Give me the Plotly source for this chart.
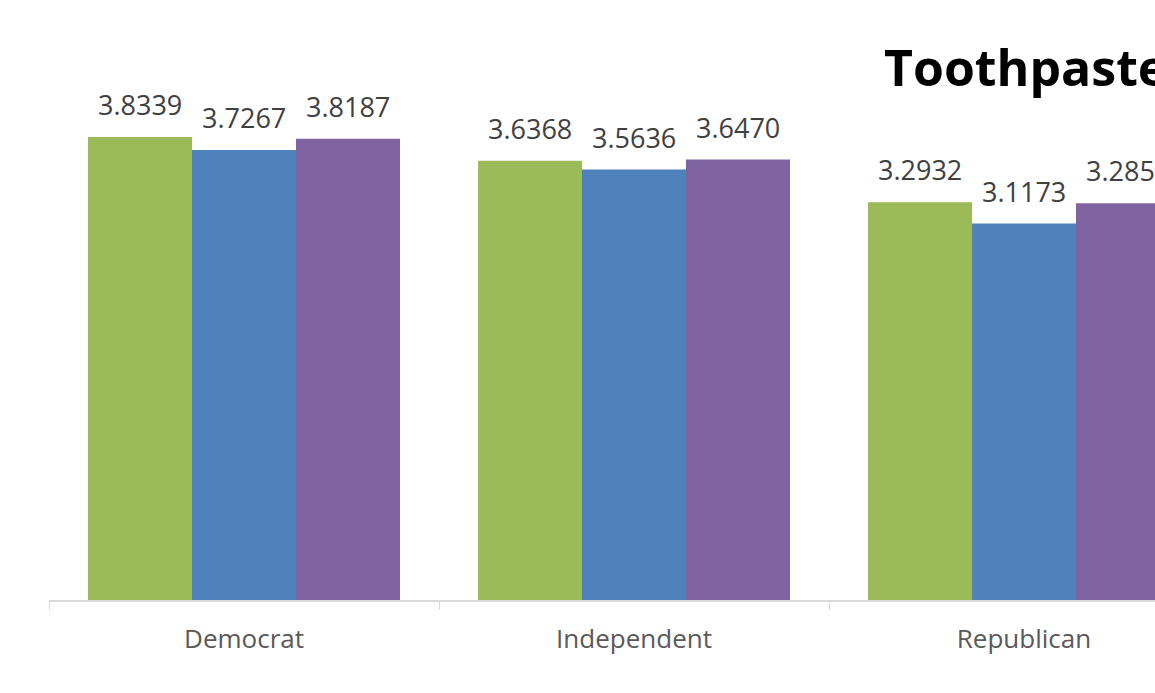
import plotly.graph_objects as go

# Mean scores by party affiliation, three series per group
categories = ["Democrat", "Independent", "Republican"]
series_names = ["Series 1", "Series 2", "Series 3"]
series_a = [3.8339, 3.6368, 3.2932]
series_b = [3.7267, 3.5636, 3.1173]
series_c = [3.8187, 3.6470, 3.2858]
series_colors = ["#9BBB59", "#4F81BD", "#8064A2"]
title_text = "Toothpaste Brand Rating by Party"

W, H = 1155, 693
M_L, M_R, M_T, M_B = 49, 0, 8, 93
CAT_PX = 390          # pixel width of one category slot
PX_PER_UNIT = 120.77  # vertical scale

plot_w = W - M_L - M_R
plot_h = H - M_T - M_B
x_range = [-0.5, -0.5 + plot_w / CAT_PX]
y_range = [0, plot_h / PX_PER_UNIT]

fig = go.Figure()
all_series = [series_a, series_b, series_c]
for name, vals, col in zip(series_names, all_series, series_colors):
    fig.add_trace(go.Bar(
        x=categories, y=vals, name=name,
        marker=dict(color=col, line=dict(width=0)),
        cliponaxis=True,
    ))

# Value labels above each bar
group_w = 0.8
bar_w = group_w / len(all_series)
label_font = dict(family="Open Sans, sans-serif", size=27, color="#404040")
for si, vals in enumerate(all_series):
    offset = -group_w / 2 + bar_w * (si + 0.5)
    for ci, v in enumerate(vals):
        fig.add_annotation(
            x=ci + offset, y=v, xref="x", yref="y",
            text=f"{v:.4f}", showarrow=False,
            yanchor="bottom", yshift=12,
            font=label_font,
        )

# Title anchored in pixel terms, converted to plot-area paper fractions
title_px_x, title_px_y = 882, 67
fig.add_annotation(
    x=(title_px_x - M_L) / plot_w, y=(H - M_B - title_px_y) / plot_h,
    xref="paper", yref="paper",
    xanchor="left", yanchor="middle", text=f"<b>{title_text}</b>",
    showarrow=False,
    font=dict(family="Open Sans, sans-serif", size=50, color="#000000"),
)

fig.update_layout(
    width=W, height=H,
    margin=dict(l=M_L, r=M_R, t=M_T, b=M_B, pad=0),
    barmode="group", bargap=0.2, bargroupgap=0,
    plot_bgcolor="white", paper_bgcolor="white",
    showlegend=False,
    xaxis=dict(
        type="category", range=x_range,
        showline=True, linecolor="#D9D9D9", linewidth=1.5,
        ticks="outside", tickson="boundaries", ticklen=8, tickcolor="#D9D9D9",
        tickfont=dict(family="Open Sans, sans-serif", size=26, color="#595959"),
        ticklabelstandoff=15,
        showgrid=False, zeroline=False,
    ),
    yaxis=dict(range=y_range, visible=False, showgrid=False, zeroline=False),
)

fig.write_html("out.html")
